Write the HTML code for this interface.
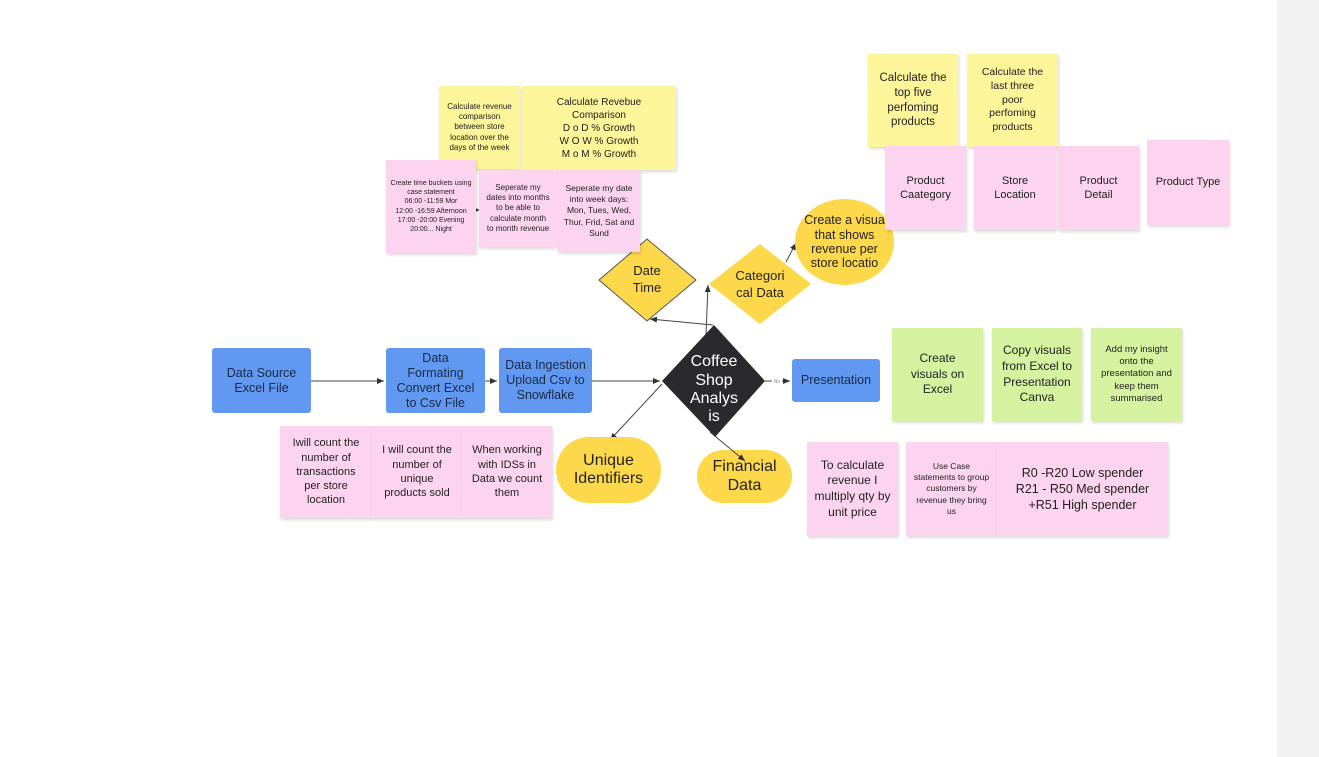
<!DOCTYPE html>
<html><head><meta charset="utf-8"><style>
body{margin:0;width:1319px;height:757px;position:relative;background:#fff;overflow:hidden;font-family:"Liberation Sans","DejaVu Sans",sans-serif;color:#222}
.n{position:absolute;display:flex;align-items:center;justify-content:center;text-align:center;box-sizing:border-box;line-height:1.3}
.y,.p,.g{padding:0 7px}
.y{background:#fdf59a;box-shadow:1px 2px 3px rgba(0,0,0,.15)}
.p{background:#fdd4f0;box-shadow:1px 2px 3px rgba(0,0,0,.15)}
.g{background:#d4f2a0;box-shadow:1px 2px 3px rgba(0,0,0,.15)}
.b{background:#6199f2;border-radius:3px;color:#1a2a44;font-size:12.5px;line-height:1.2}
.o{background:#fdd84a;color:#222}
</style></head><body>
<div style="position:absolute;left:1277px;top:0;width:42px;height:757px;background:#f1f1f1"></div>
<svg width="1319" height="757" style="position:absolute;left:0;top:0">
<defs><marker id="a" markerWidth="8" markerHeight="8" refX="7" refY="4" orient="auto"><path d="M0,1 L7,4 L0,7z" fill="#333"/></marker></defs>
<g stroke="#444" stroke-width="1" fill="none">
<line x1="311" y1="381" x2="384" y2="381" marker-end="url(#a)"/>
<line x1="484" y1="381" x2="497" y2="381" marker-end="url(#a)"/>
<line x1="592" y1="381" x2="660" y2="381" marker-end="url(#a)"/>
<line x1="765" y1="381" x2="790" y2="381" marker-end="url(#a)"/>
<line x1="713" y1="325" x2="650" y2="319" marker-end="url(#a)"/>
<line x1="706" y1="334" x2="708" y2="285" marker-end="url(#a)"/>
<line x1="786" y1="262" x2="796" y2="243" marker-end="url(#a)"/>
<line x1="662" y1="384" x2="610" y2="440" marker-end="url(#a)"/>
<line x1="473" y1="210" x2="480" y2="210" marker-end="url(#a)"/>
</g>
<rect x="772" y="378" width="10" height="6" fill="#fff"/>
<text x="777" y="383" font-size="5" fill="#888" text-anchor="middle" font-family="Liberation Sans">No</text>
<polygon points="647,239 696,280 647,321 599,280" fill="#fdd84a" stroke="#555" stroke-width="1"/>
<polygon points="760,244 811,284 760,324 709,284" fill="#fdd84a"/>
<polygon points="714,325 765,381 715,437 662,381" fill="#2a2a2e"/>
</svg>
<div class="n" style="left:599px;top:255px;width:96px;height:50px;font-size:13px">Date<br>Time</div>
<div class="n" style="left:715px;top:262px;width:90px;height:45px;font-size:13px">Categori<br>cal Data</div>
<div class="n" style="left:672px;top:350px;width:84px;height:80px;font-size:16px;color:#fff;line-height:1.15">Coffee<br>Shop<br>Analys<br>is</div>
<div class="n o" style="left:795px;top:199px;width:99px;height:86px;border-radius:50%;font-size:12.5px;line-height:1.15">Create a visua<br>that shows<br>revenue per<br>store locatio</div>
<div class="n o" style="left:556px;top:437px;width:105px;height:66px;border-radius:33px;font-size:16px;line-height:1.15">Unique<br>Identifiers</div>
<div class="n o" style="left:697px;top:450px;width:95px;height:53px;border-radius:27px;font-size:16px;line-height:1.15">Financial<br>Data</div>
<svg width="1319" height="757" style="position:absolute;left:0;top:0"><line x1="710" y1="432" x2="745" y2="461" stroke="#444" stroke-width="1" marker-end="url(#a)"/></svg>

<div class="n b" style="left:212px;top:348px;width:99px;height:65px">Data Source<br>Excel File</div>
<div class="n b" style="left:386px;top:348px;width:99px;height:65px">Data<br>Formating<br>Convert Excel<br>to Csv File</div>
<div class="n b" style="left:499px;top:348px;width:93px;height:65px">Data Ingestion<br>Upload Csv to<br>Snowflake</div>
<div class="n b" style="left:792px;top:359px;width:88px;height:43px">Presentation</div>

<div class="n y" style="left:439px;top:86px;width:81px;height:83px;font-size:8px">Calculate revenue comparison between store location over the days of the week</div>
<div class="n y" style="left:522px;top:86px;width:154px;height:84px;font-size:10px">Calculate Revebue<br>Comparison<br>D o D % Growth<br>W O W % Growth<br>M o M % Growth</div>
<div class="n y" style="left:868px;top:54px;width:90px;height:93px;font-size:11.5px">Calculate the<br>top five<br>perfoming<br>products</div>
<div class="n y" style="left:967px;top:54px;width:91px;height:93px;font-size:10.5px">Calculate the<br>last three<br>poor<br>perfoming<br>products</div>

<div class="n p" style="left:386px;top:160px;width:90px;height:93px;font-size:7px;padding:0 2px">Create time buckets using case statement<br>06:00 -11:59 Mor<br>12:00 -16:59 Afternoon<br>17:00 -20:00 Evening<br>20:00... Night</div>
<div class="n p" style="left:479px;top:170px;width:78px;height:77px;font-size:8px">Seperate my dates into months to be able to calculate month to month revenue</div>
<div class="n p" style="left:558px;top:170px;width:82px;height:82px;font-size:8.5px;padding:0 3px">Seperate my date into week days: Mon, Tues, Wed, Thur, Frid, Sat and Sund</div>
<div class="n p" style="left:885px;top:146px;width:81px;height:84px;font-size:11px">Product<br>Caategory</div>
<div class="n p" style="left:974px;top:146px;width:82px;height:84px;font-size:11px">Store<br>Location</div>
<div class="n p" style="left:1058px;top:146px;width:81px;height:84px;font-size:11px">Product<br>Detail</div>
<div class="n p" style="left:1147px;top:140px;width:82px;height:85px;font-size:11px;padding:0 2px">Product Type</div>

<div class="n p" style="left:280px;top:426px;width:92px;height:92px;font-size:11px">Iwill count the number of transactions per store location</div>
<div class="n p" style="left:372px;top:426px;width:90px;height:92px;font-size:11px">I will count the number of unique products sold</div>
<div class="n p" style="left:462px;top:426px;width:90px;height:92px;font-size:11px">When working with IDSs in Data we count them</div>
<div class="n p" style="left:807px;top:442px;width:91px;height:94px;font-size:12px">To calculate revenue I multiply qty by unit price</div>
<div class="n p" style="left:906px;top:442px;width:91px;height:94px;font-size:8.5px">Use Case statements to group customers by revenue they bring us</div>
<div class="n p" style="left:997px;top:442px;width:171px;height:94px;font-size:12.5px">R0 -R20 Low spender<br>R21 - R50 Med spender<br>+R51 High spender</div>

<div class="n g" style="left:892px;top:328px;width:91px;height:93px;font-size:12px">Create<br>visuals on<br>Excel</div>
<div class="n g" style="left:992px;top:328px;width:90px;height:93px;font-size:12px;padding:0 4px">Copy visuals from Excel to Presentation Canva</div>
<div class="n g" style="left:1091px;top:328px;width:91px;height:93px;font-size:9.5px">Add my insight onto the presentation and keep them summarised</div>
</body></html>
